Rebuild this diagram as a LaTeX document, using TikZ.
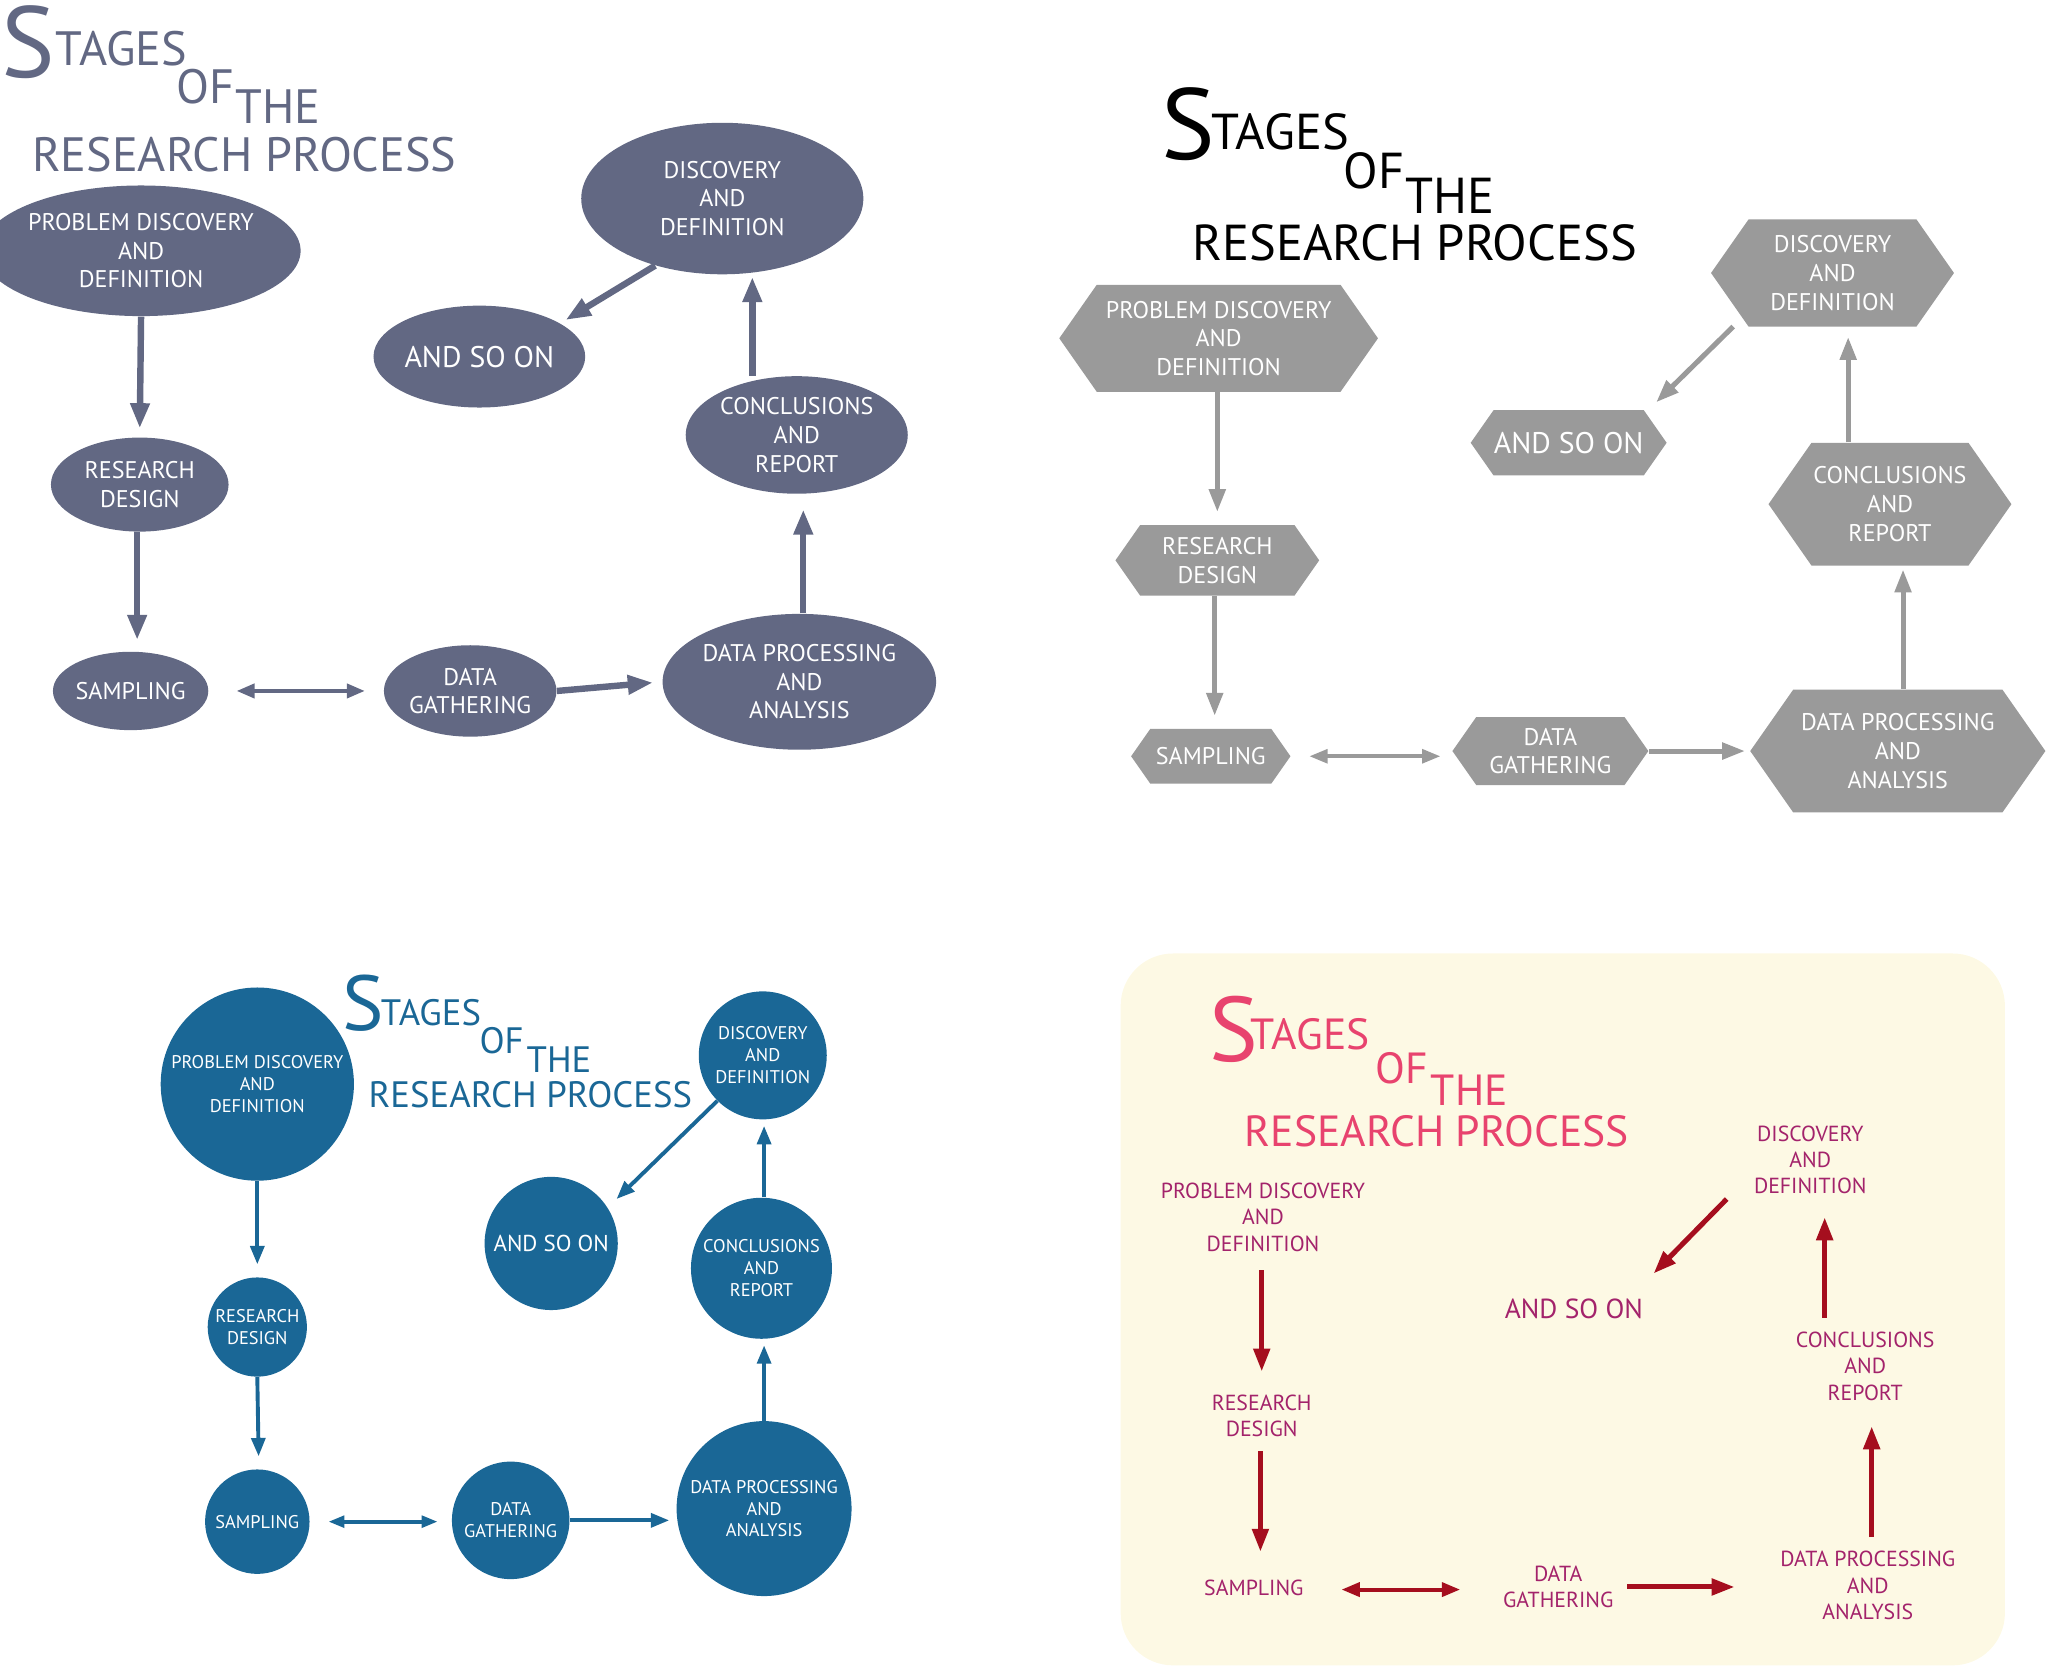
\documentclass[tikz,border=0pt]{standalone}
\usepackage{fontspec}
\setmainfont{PT Sans}
\usetikzlibrary{shapes.geometric,shapes.symbols,arrows.meta}
\definecolor{slate}{HTML}{626883}
\definecolor{gry}{HTML}{9A9A9A}
\definecolor{blu}{HTML}{1A6796}
\definecolor{pnk}{HTML}{E8436E}
\definecolor{plum}{HTML}{A3236B}
\definecolor{drd}{HTML}{A50E1E}
\definecolor{crm}{HTML}{FDF9E4}
\begin{document}
\begin{tikzpicture}[x=0.02cm,y=-0.02cm,
  every node/.style={align=center,inner sep=0pt},
  el/.style 2 args={ellipse,fill=slate,text=white,minimum width=#1*0.02cm,minimum height=#2*0.02cm,font=\fontsize{10.5}{12.5}\selectfont},
  hx/.style 2 args={signal,signal to=east and west,signal pointer angle=110,fill=gry,text=white,minimum width=#1*0.02cm,minimum height=#2*0.02cm,font=\fontsize{10.5}{12.5}\selectfont},
  ci/.style={circle,fill=blu,text=white,minimum size=#1*0.04cm,font=\fontsize{8}{9.5}\selectfont},
  tx/.style={text=plum,font=\fontsize{9.5}{11.5}\selectfont},
  a1/.style={draw=slate,line width=2.8pt,-{Triangle[length=11pt,width=8pt]}},
  a2/.style={draw=gry,line width=2.2pt,-{Triangle[length=10pt,width=7pt]}},
  a3/.style={draw=blu,line width=1.7pt,-{Triangle[length=8pt,width=6pt]}},
  a4/.style={draw=drd,line width=2.2pt,-{Triangle[length=10pt,width=7pt]}},
  d1/.style={a1,{Triangle[length=8pt,width=6pt]}-{Triangle[length=8pt,width=6pt]},line width=2pt},
  d2/.style={a2,{Triangle[length=8pt,width=6pt]}-{Triangle[length=8pt,width=6pt]},line width=1.6pt},
  d3/.style={a3,{Triangle[length=7pt,width=5pt]}-{Triangle[length=7pt,width=5pt]}},
  d4/.style={a4,{Triangle[length=8pt,width=6pt]}-{Triangle[length=8pt,width=6pt]},line width=1.8pt}]
\useasboundingbox (0,0) rectangle (1568,1276);
% ---------- Panel 1
\begin{scope}[every node/.append style={text=slate,font=\fontsize{21}{21}\selectfont}]
\node[font=\fontsize{44}{44}\selectfont] (s1) at (22,32) {S};
\node (t1a) at (93,37) {TAGES};
\node (t1b) at (157,66) {OF};
\node (t1c) at (213,82) {THE};
\node (t1d) at (187,118) {RESEARCH PROCESS};
\end{scope}
\node[el={216}{100}] (p1) at (108,192) {PROBLEM DISCOVERY\\AND\\DEFINITION};
\node[el={136}{72}] (r1) at (107,371) {RESEARCH\\DESIGN};
\node[el={116}{60}] (sa1) at (100,529) {SAMPLING};
\node[el={132}{70}] (g1) at (360,529) {DATA\\GATHERING};
\node[el={198}{104}] (dp1) at (612,522) {DATA PROCESSING\\AND\\ANALYSIS};
\node[el={170}{90}] (c1) at (610,333) {CONCLUSIONS\\AND\\REPORT};
\node[el={216}{116}] (di1) at (553,152) {DISCOVERY\\AND\\DEFINITION};
\node[el={152}{78},font=\fontsize{13}{15}\selectfont] (as1) at (367,273) {AND SO ON};
\coordinate (e1a) at (107,328); \coordinate (e1b) at (105,490);
\coordinate (e1c) at (615,390); \coordinate (e1d) at (576,212);
\coordinate (e1e) at (433,245);
\draw[a1] (p1.south) -- (e1a);
\draw[a1] (r1.south -| e1b) -- (e1b);
\draw[d1,shorten <=12pt,shorten >=8pt] (sa1.east) -- (g1.west);
\draw[a1,shorten >=4pt] (g1.east) -- (dp1.west);
\draw[a1] (dp1.north -| e1c) -- (e1c);
\draw[a1] (c1.north -| e1d) -- (e1d);
\draw[a1] (di1.225) -- (e1e);
% ---------- Panel 2
\begin{scope}[every node/.append style={text=black,font=\fontsize{22}{22}\selectfont}]
\node[font=\fontsize{44}{44}\selectfont] (s2) at (910,95) {S};
\node (t2a) at (980,101) {TAGES};
\node (t2b) at (1052,131) {OF};
\node (t2c) at (1110,150) {THE};
\node (t2d) at (1083,186) {RESEARCH PROCESS};
\end{scope}
\node[hx={244}{82}] (p2) at (933,259) {PROBLEM DISCOVERY\\AND\\DEFINITION};
\node[hx={156}{54}] (r2) at (932,429) {RESEARCH\\DESIGN};
\node[hx={122}{42}] (sa2) at (927,579) {SAMPLING};
\node[hx={150}{52}] (g2) at (1187,575) {DATA\\GATHERING};
\node[hx={226}{94}] (dp2) at (1453,575) {DATA PROCESSING\\AND\\ANALYSIS};
\node[hx={186}{94}] (c2) at (1447,386) {CONCLUSIONS\\AND\\REPORT};
\node[hx={186}{82}] (di2) at (1403,209) {DISCOVERY\\AND\\DEFINITION};
\node[hx={150}{50},font=\fontsize{13}{15}\selectfont] (as2) at (1201,339) {AND SO ON};
\coordinate (e2a) at (932,392); \coordinate (e2b) at (930,548);
\coordinate (e2c) at (1457,436); \coordinate (e2d) at (1415,258);
\coordinate (e2e) at (1268,308); \coordinate (e2f) at (1327,250);
\draw[a2] (p2.south -| e2a) -- (e2a);
\draw[a2] (r2.south -| e2b) -- (e2b);
\draw[d2,shorten <=8pt,shorten >=5pt] (sa2.east) -- (sa2.east -| g2.west);
\draw[a2,shorten >=2pt] (g2.east) -- (g2.east -| dp2.west);
\draw[a2] (dp2.north -| e2c) -- (e2c);
\draw[a2] (c2.north -| e2d) -- (e2d);
\draw[a2] (e2f) -- (e2e);
% ---------- Panel 3
\begin{scope}[every node/.append style={text=blu,font=\fontsize{16}{16}\selectfont}]
\node[font=\fontsize{34}{34}\selectfont] (s3) at (278,768) {S};
\node (t3a) at (330,775) {TAGES};
\node (t3b) at (384,797) {OF};
\node (t3c) at (428,811) {THE};
\node (t3d) at (406,838) {RESEARCH PROCESS};
\end{scope}
\node[ci=74] (p3) at (197,830) {PROBLEM DISCOVERY\\AND\\DEFINITION};
\node[ci=38] (r3) at (197,1016) {RESEARCH\\DESIGN};
\node[ci=40] (sa3) at (197,1165) {SAMPLING};
\node[ci=45] (g3) at (391,1164) {DATA\\GATHERING};
\node[ci=67] (dp3) at (585,1155) {DATA PROCESSING\\AND\\ANALYSIS};
\node[ci=54] (c3) at (583,971) {CONCLUSIONS\\AND\\REPORT};
\node[ci=49] (di3) at (584,808) {DISCOVERY\\AND\\DEFINITION};
\node[ci=51,font=\fontsize{10}{12}\selectfont] (as3) at (422,952) {AND SO ON};
\coordinate (e3a) at (197,968); \coordinate (e3b) at (198,1115);
\coordinate (e3c) at (585,1030); \coordinate (e3d) at (585,862);
\coordinate (e3e) at (472,918);
\draw[a3] (p3.south) -- (e3a);
\draw[a3] (r3.south) -- (e3b);
\draw[d3,shorten <=8pt,shorten >=6pt] (sa3.east) -- (sa3.east -| g3.west);
\draw[a3,shorten >=3pt] (g3.east) -- (g3.east -| dp3.west);
\draw[a3] (dp3.north) -- (e3c);
\draw[a3] (c3.north -| e3d) -- (e3d);
\draw[a3] (di3.225) -- (e3e);
% ---------- Panel 4
\fill[crm,rounded corners=0.8cm] (858,730) rectangle (1535,1275);
\begin{scope}[every node/.append style={text=pnk,font=\fontsize{19}{19}\selectfont}]
\node[font=\fontsize{40}{40}\selectfont] (s4) at (945,788) {S};
\node (t4a) at (1003,792) {TAGES};
\node (t4b) at (1073,818) {OF};
\node (t4c) at (1125,835) {THE};
\node (t4d) at (1100,866) {RESEARCH PROCESS};
\end{scope}
\node[tx] (p4) at (967,932) {PROBLEM DISCOVERY\\AND\\DEFINITION};
\node[tx] (r4) at (966,1084) {RESEARCH\\DESIGN};
\node[tx] (sa4) at (960,1216) {SAMPLING};
\node[tx] (g4) at (1193,1215) {DATA\\GATHERING};
\node[tx] (dp4) at (1430,1214) {DATA PROCESSING\\AND\\ANALYSIS};
\node[tx] (c4) at (1428,1046) {CONCLUSIONS\\AND\\REPORT};
\node[tx] (di4) at (1386,888) {DISCOVERY\\AND\\DEFINITION};
\node[tx,font=\fontsize{12}{14}\selectfont] (as4) at (1205,1002) {AND SO ON};
\coordinate (e4a) at (966,1050); \coordinate (e4b) at (965,1188);
\coordinate (e4c) at (1027,1217); \coordinate (e4d) at (1118,1217);
\coordinate (e4e) at (1246,1215); \coordinate (e4f) at (1328,1215);
\coordinate (e4g) at (1433,1092); \coordinate (e4h) at (1397,932);
\coordinate (e4i) at (1322,918); \coordinate (e4j) at (1266,975);
\draw[a4,shorten <=8pt] (p4.south -| e4a) -- (e4a);
\draw[a4,shorten <=6pt] (r4.south -| e4b) -- (e4b);
\draw[d4] (e4c) -- (e4d);
\draw[a4] (e4e) -- (e4f);
\draw[a4,shorten <=6pt] (dp4.north -| e4g) -- (e4g);
\draw[a4,shorten <=6pt] (c4.north -| e4h) -- (e4h);
\draw[a4] (e4i) -- (e4j);
\end{tikzpicture}
\end{document}
